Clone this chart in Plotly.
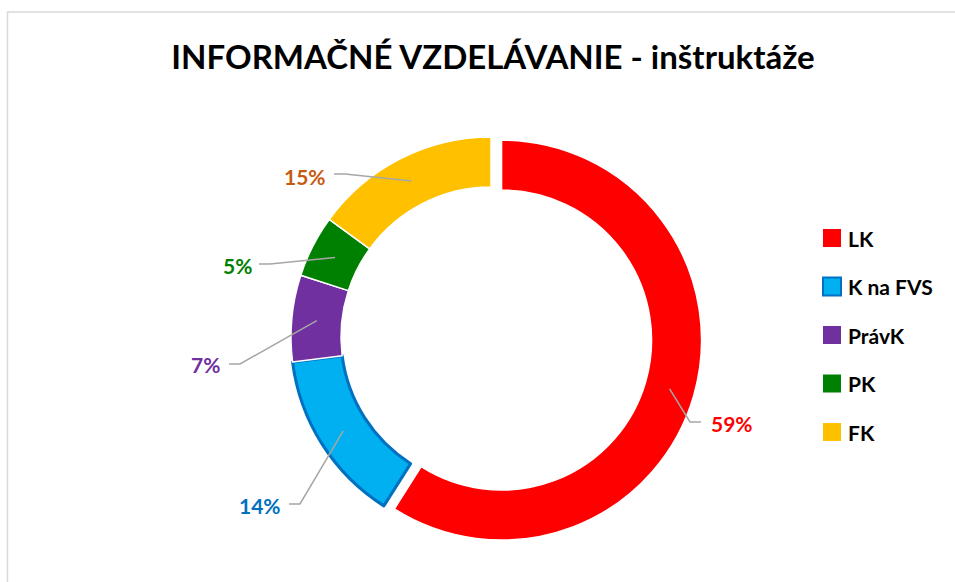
import math
import plotly.graph_objects as go

# ------------------------------------------------------
# Data
# ------------------------------------------------------
labels = ["LK", "K na FVS", "PrávK", "PK", "FK"]
values = [59, 14, 7, 5, 15]
slice_colors = ["#FF0000", "#00B0F0", "#7030A0", "#008000", "#FFC000"]
label_colors = ["#FF0000", "#0070C0", "#7030A0", "#008000", "#C55A11"]
pulls = [0.055, 0, 0, 0, 0]

title_text = "INFORMAČNÉ VZDELÁVANIE - inštruktáže"

# ------------------------------------------------------
# Layout helpers (screen pixel -> paper, margins are zero)
# ------------------------------------------------------
W, H = 955, 582
CX, CY, R = 491, 337, 200
HOLE = 0.75
FONT = "Lato"


def px(x):
    return x / W


def py(y):
    return 1 - y / H


half = R * (1 + max(pulls))
domain_x = [px(CX - half), px(CX + half)]
domain_y = [py(CY + half), py(CY - half)]

# label text centre and elbow of the leader line (screen pixels)
label_pos = [(732, 423), (260, 505), (205, 364), (237, 266), (305, 176)]
elbow_pos = [(690, 422), (300, 504), (240, 364), (270, 264), (345, 174)]

fig = go.Figure()

fig.add_trace(go.Pie(
    labels=labels,
    values=values,
    sort=False,
    direction="clockwise",
    rotation=0,
    hole=HOLE,
    pull=pulls,
    marker=dict(
        colors=slice_colors,
        line=dict(
            color=["white", "#0070C0", "white", "white", "white"],
            width=[1.5, 3, 1.5, 1.5, 1.5],
        ),
    ),
    textinfo="none",
    hoverinfo="label+percent",
    showlegend=False,
    domain=dict(x=domain_x, y=domain_y),
))

shapes = []
annotations = []

# chart frame (only the top and left edges are inside the picture)
shapes.append(dict(
    type="path", xref="paper", yref="paper",
    path=f"M {px(7.5)},0 L {px(7.5)},{py(12)} L 1,{py(12)}",
    line=dict(color="#D9D9D9", width=1.5),
))

# leader lines + percentage labels
total = sum(values)
cum = 0
r_mid = R * (1 + HOLE) / 2
for i, v in enumerate(values):
    ang = math.radians((cum + v / 2) / total * 360)
    cum += v
    sx, sy = math.sin(ang), -math.cos(ang)
    ax = CX + (r_mid + pulls[i] * R) * sx
    ay = CY + (r_mid + pulls[i] * R) * sy
    ex, ey = elbow_pos[i]
    tx, ty = label_pos[i]
    endx = ex + (11 if tx > ex else -11)
    shapes.append(dict(
        type="path", xref="paper", yref="paper",
        path=f"M {px(ax)},{py(ay)} L {px(ex)},{py(ey)} L {px(endx)},{py(ey)}",
        line=dict(color="#A6A6A6", width=1.5),
    ))
    annotations.append(dict(
        x=px(tx), y=py(ty), xref="paper", yref="paper",
        text=f"{v}%", showarrow=False,
        xanchor="center", yanchor="middle",
        font=dict(family=FONT, size=21, color=label_colors[i], weight=700),
    ))

# legend
leg_x, leg_y0, leg_step, sw = 823, 238, 48.5, 18
for i, name in enumerate(labels):
    yc = leg_y0 + i * leg_step
    shapes.append(dict(
        type="rect", xref="paper", yref="paper",
        x0=px(leg_x), x1=px(leg_x + sw),
        y0=py(yc + sw / 2), y1=py(yc - sw / 2),
        fillcolor=slice_colors[i],
        line=dict(color="#0070C0" if i == 1 else slice_colors[i], width=2 if i == 1 else 0),
    ))
    annotations.append(dict(
        x=px(leg_x + sw + 5), y=py(yc), xref="paper", yref="paper",
        text=name, showarrow=False,
        xanchor="left", yanchor="middle",
        font=dict(family=FONT, size=21, color="#000000", weight=700),
    ))

fig.update_layout(
    width=W,
    height=H,
    margin=dict(l=0, r=0, t=0, b=0),
    paper_bgcolor="white",
    plot_bgcolor="white",
    title=dict(
        text=title_text,
        x=px(493), xanchor="center",
        y=py(57), yanchor="middle", yref="container",
        font=dict(family=FONT, size=33, color="#000000", weight=700),
    ),
    shapes=shapes,
    annotations=annotations,
)

# page without margin or scrollbars, so the figure fills the window
fig.write_html(
    "out.html",
    config=dict(displayModeBar=False),
    post_script=(
        "document.documentElement.style.overflow = 'hidden';"
        "document.body.style.margin = '0';"
    ),
)
